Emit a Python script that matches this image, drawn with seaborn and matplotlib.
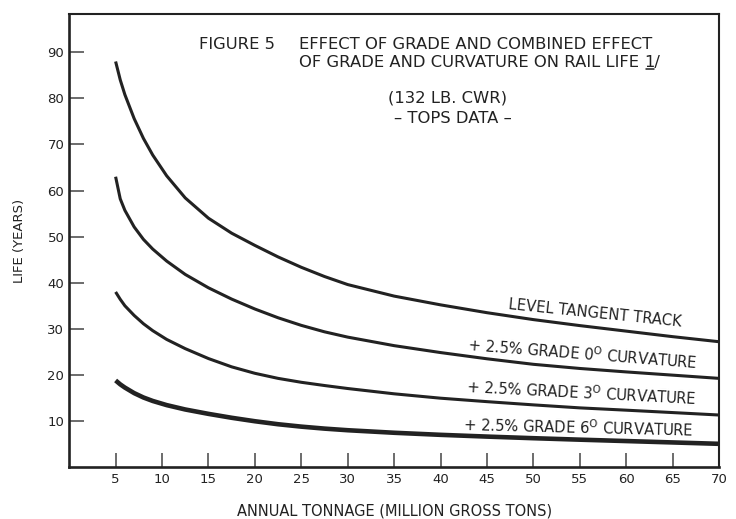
import numpy as np
import pandas as pd
import seaborn as sns
import matplotlib.pyplot as plt
from matplotlib.lines import Line2D

# Annual tonnage (million gross tons) at which each curve is read
tonnage = [5, 5.5, 6, 7, 8, 9, 10.5, 12.5, 15, 17.5, 20, 22.5, 25, 27.5, 30, 35, 40,
           45, 50, 55, 60, 65, 70]

# Rail life (years) for each track condition
life_level_tangent = [88, 84, 80.8, 75.6, 71.3, 67.7, 63.2, 58.4, 54.0, 50.75, 48.1, 45.6,
                      43.35, 41.35, 39.6, 37.1, 35.2, 33.5, 32.0, 30.7, 29.5, 28.3, 27.2]
life_grade_0deg = [63, 58.2, 55.7, 52.1, 49.4, 47.3, 44.7, 41.8, 38.9, 36.45, 34.3, 32.4,
                   30.75, 29.35, 28.2, 26.35, 24.85, 23.5, 22.3, 21.4, 20.65, 19.95, 19.25]
life_grade_3deg = [38, 36.4, 35.0, 32.9, 31.1, 29.6, 27.7, 25.7, 23.55, 21.75, 20.35, 19.25,
                   18.4, 17.7, 17.05, 15.9, 14.95, 14.2, 13.5, 12.85, 12.35, 11.83, 11.3]
life_grade_6deg = [18.8, 17.95, 17.25, 16.05, 15.1, 14.35, 13.45, 12.5, 11.55, 10.7, 9.95,
                   9.3, 8.78, 8.35, 8.0, 7.45, 7.0, 6.62, 6.27, 5.95, 5.65, 5.35, 5.05]

series_names = ["LEVEL TANGENT TRACK",
                "+ 2.5% GRADE 0$^{\\mathrm{O}}$ CURVATURE",
                "+ 2.5% GRADE 3$^{\\mathrm{O}}$ CURVATURE",
                "+ 2.5% GRADE 6$^{\\mathrm{O}}$ CURVATURE"]
series_values = [life_level_tangent, life_grade_0deg, life_grade_3deg, life_grade_6deg]

x_ticks = [5, 10, 15, 20, 25, 30, 35, 40, 45, 50, 55, 60, 65, 70]
y_ticks = [10, 20, 30, 40, 50, 60, 70, 80, 90]

df = pd.DataFrame({
    "tonnage": tonnage * len(series_names),
    "life": [v for vals in series_values for v in vals],
    "series": [name for name, vals in zip(series_names, series_values) for _ in vals],
})

sns.set_theme(style="white")
plt.rcParams["font.family"] = ["DejaVu Sans"]
plt.rcParams["mathtext.fontset"] = "dejavusans"

ink = "#222222"
fig = plt.figure(figsize=(7.36, 5.19), dpi=100)
ax = fig.add_axes([0.094, 0.100, 0.883, 0.873])

sns.lineplot(data=df, x="tonnage", y="life", hue="series", size="series",
             sizes={series_names[0]: 2.2, series_names[1]: 2.2,
                    series_names[2]: 2.2, series_names[3]: 3.3},
             palette={n: ink for n in series_names}, legend=False, ax=ax,
             solid_capstyle="butt", solid_joinstyle="round")

ax.set_xlim(0, 70)
ax.set_ylim(0, 98.3)
ax.set_xticks(x_ticks)
ax.set_yticks(y_ticks)
ax.set_xticklabels([str(t) for t in x_ticks])
ax.set_yticklabels([str(t) for t in y_ticks])
ax.tick_params(axis="x", direction="in", length=10, width=1.1, color="#444444",
               pad=4.5, labelsize=9.5, labelcolor=ink, bottom=True)
ax.tick_params(axis="y", direction="in", length=11, width=1.1, color="#444444",
               pad=3.5, labelsize=9.5, labelcolor=ink, left=True)
for s in ax.spines.values():
    s.set_color(ink)
    s.set_linewidth(1.5)
ax.spines["left"].set_linewidth(1.9)
ax.spines["bottom"].set_linewidth(1.9)

ax.set_xlabel("ANNUAL TONNAGE (MILLION GROSS TONS)", fontsize=10.5, color=ink)
ax.set_ylabel("LIFE (YEARS)", fontsize=9.5, color=ink)
ax.xaxis.set_label_coords(0.5, -0.080)
ax.yaxis.set_label_coords(-0.066, 0.50)

# Curve captions laid along each line
captions = [
    (series_names[0], 56.6, 33.3, -5.8),
    (series_names[1], 55.3, 24.6, -4.5),
    (series_names[2], 55.2, 16.1, -3.0),
    (series_names[3], 54.8, 8.7, -1.4),
]
for text, xc, yc, rot in captions:
    ax.text(xc, yc, text, fontsize=10.6, color=ink, ha="center", va="center",
            rotation=rot, rotation_mode="anchor")

# Heading block
head = dict(transform=ax.transAxes, fontsize=11.8, color=ink, va="center")
ax.text(0.199, 0.932, "FIGURE 5", ha="left", **head)
ax.text(0.354, 0.932, "EFFECT OF GRADE AND COMBINED EFFECT", ha="left", **head)
line2 = ax.text(0.354, 0.894, "OF GRADE AND CURVATURE ON RAIL LIFE ", ha="left", **head)
ax.text(0.582, 0.815, "(132 LB. CWR)", ha="center", **head)
ax.text(0.591, 0.770, "– TOPS DATA –", ha="center", **head)

# Footnote marker "1/" with the 1 underlined
fig.canvas.draw()
renderer = fig.canvas.get_renderer()
bb = line2.get_window_extent(renderer).transformed(ax.transAxes.inverted())
ax.text(bb.x1, 0.894, "1/", ha="left", **head)
one = ax.text(bb.x1, 0.894, "1", ha="left", alpha=0, **head)
fig.canvas.draw()
ob = one.get_window_extent(renderer).transformed(ax.transAxes.inverted())
ax.add_line(Line2D([ob.x0 + 0.002, ob.x1 - 0.002], [ob.y0 + 0.002, ob.y0 + 0.002],
                   transform=ax.transAxes, color=ink, lw=1.1))

fig.savefig("out.png", dpi=100, facecolor="white")
